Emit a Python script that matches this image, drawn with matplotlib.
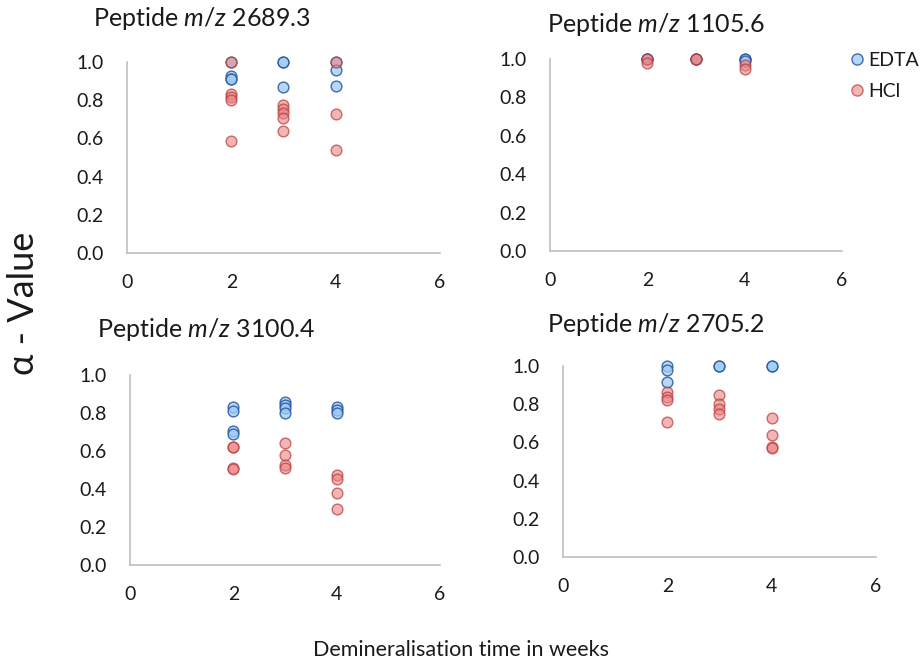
import matplotlib.pyplot as plt
from matplotlib.lines import Line2D

# ===== data =====
weeks = [2, 3, 4]

titles = ["2689.3", "1105.6", "3100.4", "2705.2"]

# alpha values per week (2, 3, 4) for each peptide
edta_2689 = [[1.0, 0.925, 0.913, 0.91], [1.0, 1.0, 0.869], [1.0, 0.956, 0.873]]
hcl_2689 = [[1.0, 0.832, 0.817, 0.80, 0.588], [0.777, 0.754, 0.733, 0.707, 0.637], [1.0, 0.73, 0.538]]

edta_1105 = [[1.0, 1.0, 1.0], [1.0, 1.0], [1.0, 1.0, 0.99]]
hcl_1105 = [[1.0, 0.977], [1.0, 1.0], [0.969, 0.946]]

edta_3100 = [[0.83, 0.81, 0.707, 0.69], [0.86, 0.842, 0.825, 0.798], [0.833, 0.816, 0.798]]
hcl_3100 = [[0.623, 0.62, 0.509, 0.505], [0.64, 0.579, 0.526, 0.509], [0.474, 0.451, 0.381, 0.293]]

edta_2705 = [[1.0, 0.977, 0.917], [1.0, 1.0], [1.0, 1.0]]
hcl_2705 = [[0.864, 0.837, 0.82, 0.706], [0.847, 0.803, 0.777, 0.75], [0.729, 0.638, 0.577, 0.569]]

panels = [
    (edta_2689, hcl_2689),
    (edta_1105, hcl_1105),
    (edta_3100, hcl_3100),
    (edta_2705, hcl_2705),
]

# axes boxes [left, bottom, width, height] in figure fraction
boxes = [
    [0.1377, 0.6207, 0.3395, 0.2864],
    [0.5965, 0.6237, 0.3167, 0.2879],
    [0.1410, 0.1529, 0.3362, 0.2849],
    [0.6106, 0.1649, 0.3395, 0.2864],
]
# title left edge / vertical centre, in pixels
title_px = [(93, 19), (547, 25), (97, 330), (547, 325)]

edta_face = (0.62, 0.80, 0.96, 0.75)
edta_edge = (0.16, 0.33, 0.62, 0.85)
hcl_face = (0.91, 0.52, 0.52, 0.6)
hcl_edge = (0.72, 0.22, 0.22, 0.7)
txt = "#1a1a1a"

plt.rcParams["font.family"] = ["Lato", "DejaVu Sans"]
plt.rcParams["mathtext.fontset"] = "custom"
plt.rcParams["mathtext.rm"] = "Lato"
plt.rcParams["mathtext.it"] = "Lato:italic"

W, H = 922, 667
fig = plt.figure(figsize=(W / 100, H / 100), dpi=100)

for i, (edta, hcl) in enumerate(panels):
    ax = fig.add_axes(boxes[i])
    for w, vals in zip(weeks, edta):
        ax.scatter([w] * len(vals), vals, s=60, facecolor=edta_face,
                   edgecolor=edta_edge, linewidth=1.0, clip_on=False, zorder=3)
    for w, vals in zip(weeks, hcl):
        ax.scatter([w] * len(vals), vals, s=60, facecolor=hcl_face,
                   edgecolor=hcl_edge, linewidth=1.0, clip_on=False, zorder=3)
    ax.set_xlim(0, 6)
    ax.set_ylim(0, 1.0)
    ax.set_xticks([0, 2, 4, 6])
    ax.set_yticks([0, 0.2, 0.4, 0.6, 0.8, 1.0])
    ax.set_yticklabels(["0.0", "0.2", "0.4", "0.6", "0.8", "1.0"])
    ax.tick_params(length=0, labelsize=14, colors=txt)
    ax.tick_params(axis="x", pad=15)
    ax.tick_params(axis="y", pad=17)
    for s in ["top", "right"]:
        ax.spines[s].set_visible(False)
    for s in ["left", "bottom"]:
        ax.spines[s].set_color("#BFBFBF")
        ax.spines[s].set_linewidth(1.2)
    tx, ty = title_px[i]
    fig.text(tx / W, 1 - ty / H,
             r"Peptide $\mathit{m/z}$ " + titles[i], fontsize=18, color=txt,
             ha="left", va="center")

# legend
handles = [
    Line2D([], [], marker="o", linestyle="", markersize=8,
           markerfacecolor=edta_face, markeredgecolor=edta_edge, label="EDTA"),
    Line2D([], [], marker="o", linestyle="", markersize=8,
           markerfacecolor=hcl_face, markeredgecolor=hcl_edge, label="HCl"),
]
fig.legend(handles=handles, loc="upper left", bbox_to_anchor=(838 / W, 1 - 42 / H),
           frameon=False, fontsize=14, handletextpad=0.05, labelspacing=0.75,
           handlelength=1.0, borderpad=0, labelcolor=txt)

fig.text(23 / W, 1 - 303 / H, "α - Value", rotation=90, fontsize=26, color=txt,
         ha="center", va="center")
fig.text(461 / W, 1 - 650 / H, "Demineralisation time in weeks", fontsize=15.5,
         color=txt, ha="center", va="center")

fig.savefig("out.png", dpi=100)
